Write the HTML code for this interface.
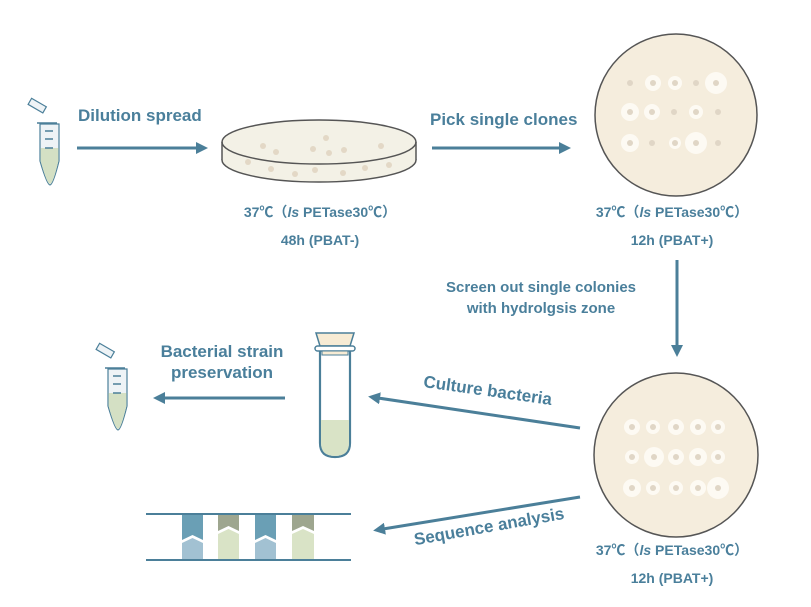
<!DOCTYPE html>
<html><head><meta charset="utf-8"><style>
body{margin:0;background:#fff}
svg{display:block;font-family:"Liberation Sans","Noto Sans CJK SC",sans-serif;font-weight:bold}
.t{fill:#4a7f9b}
</style></head><body>
<svg width="811" height="607" viewBox="0 0 811 607">
<defs>
<marker id="ah" markerWidth="12" markerHeight="12" refX="2" refY="6" orient="auto" markerUnits="userSpaceOnUse">
<path d="M0,0 L12,6 L0,12 Z" fill="#4b7f99"/></marker>
<g id="tube">
<rect x="-12" y="-10" width="17" height="7" transform="rotate(30)" fill="#eef3f6" stroke="#4b7f99" stroke-width="1.2"/>
<path d="M0,10 L20,10" stroke="#4b7f99" stroke-width="1.5"/>
<path d="M3,11 L3,48 Q10,72 13,72 Q16,72 22,48 L22,11 Z" fill="#eef3f6" stroke="#4b7f99" stroke-width="1.2"/>
<path d="M3.6,35 L21.4,35 L21.4,48 Q16,71 13,71 Q10,71 3.6,48 Z" fill="#d4e0c4"/>
<path d="M8,18 h8 M8,26 h8 M8,35 h8" stroke="#4b7f99" stroke-width="1.5"/>
</g>
</defs>

<use href="#tube" x="37" y="113"/>
<use href="#tube" x="105" y="358"/>

<text class="t" x="78" y="121" font-size="17">Dilution spread</text>
<line x1="77" y1="148" x2="198" y2="148" stroke="#4b7f99" stroke-width="3" marker-end="url(#ah)"/>

<g>
<ellipse cx="319" cy="160" rx="97" ry="22" fill="#f3f1e6" stroke="#555" stroke-width="1.5"/>
<rect x="222" y="142" width="194" height="18" fill="#f3f1e6"/>
<ellipse cx="319" cy="142" rx="97" ry="22" fill="#f3f1e6" stroke="#555" stroke-width="1.5"/>
<line x1="222" y1="142" x2="222" y2="160" stroke="#555" stroke-width="1.5"/>
<line x1="416" y1="142" x2="416" y2="160" stroke="#555" stroke-width="1.5"/>
<g fill="#e3d8c6">
<circle cx="263" cy="146" r="3"/><circle cx="276" cy="152" r="3"/><circle cx="326" cy="138" r="3"/><circle cx="313" cy="149" r="3"/><circle cx="329" cy="153" r="3"/><circle cx="344" cy="150" r="3"/><circle cx="381" cy="146" r="3"/>
<circle cx="248" cy="162" r="3"/><circle cx="271" cy="169" r="3"/><circle cx="295" cy="174" r="3"/><circle cx="315" cy="170" r="3"/><circle cx="343" cy="173" r="3"/><circle cx="365" cy="168" r="3"/><circle cx="389" cy="165" r="3"/>
</g></g>
<text class="t" x="320" y="217" font-size="14" text-anchor="middle">37℃（<tspan font-style="italic">ls</tspan> PETase30℃）</text>
<text class="t" x="320" y="245" font-size="14" text-anchor="middle">48h (PBAT-)</text>

<text class="t" x="430" y="125" font-size="17">Pick single clones</text>
<line x1="432" y1="148" x2="561" y2="148" stroke="#4b7f99" stroke-width="3" marker-end="url(#ah)"/>

<g>
<circle cx="676" cy="115" r="81" fill="#f5eddd" stroke="#555" stroke-width="1.5"/>
<g fill="#fdfaf3">
<circle cx="653" cy="83" r="8"/><circle cx="675" cy="83" r="7"/><circle cx="716" cy="83" r="11"/>
<circle cx="630" cy="112" r="9"/><circle cx="652" cy="112" r="8"/><circle cx="696" cy="112" r="7"/>
<circle cx="630" cy="143" r="9"/><circle cx="675" cy="143" r="6"/><circle cx="696" cy="143" r="11"/>
</g><g fill="#e0d6c6">
<circle cx="630" cy="83" r="3"/><circle cx="653" cy="83" r="3"/><circle cx="675" cy="83" r="3"/><circle cx="696" cy="83" r="3"/><circle cx="716" cy="83" r="3"/>
<circle cx="630" cy="112" r="3"/><circle cx="652" cy="112" r="3"/><circle cx="674" cy="112" r="3"/><circle cx="696" cy="112" r="3"/><circle cx="718" cy="112" r="3"/>
<circle cx="630" cy="143" r="3"/><circle cx="652" cy="143" r="3"/><circle cx="675" cy="143" r="3"/><circle cx="696" cy="143" r="3"/><circle cx="718" cy="143" r="3"/>
</g></g>
<text class="t" x="672" y="217" font-size="14" text-anchor="middle">37℃（<tspan font-style="italic">ls</tspan> PETase30℃）</text>
<text class="t" x="672" y="245" font-size="14" text-anchor="middle">12h (PBAT+)</text>

<line x1="677" y1="260" x2="677" y2="347" stroke="#4b7f99" stroke-width="3" marker-end="url(#ah)"/>
<text class="t" x="541" y="292" font-size="15" text-anchor="middle">Screen out single colonies</text>
<text class="t" x="541" y="313" font-size="15" text-anchor="middle">with hydrolgsis zone</text>

<g>
<circle cx="676" cy="455" r="82" fill="#f5eddd" stroke="#555" stroke-width="1.5"/>
<g fill="#fdfaf3">
<circle cx="632" cy="427" r="8"/><circle cx="653" cy="427" r="7"/><circle cx="676" cy="427" r="8"/><circle cx="698" cy="427" r="8"/><circle cx="718" cy="427" r="7"/>
<circle cx="632" cy="457" r="7"/><circle cx="654" cy="457" r="10"/><circle cx="676" cy="457" r="8"/><circle cx="698" cy="457" r="9"/><circle cx="718" cy="457" r="7"/>
<circle cx="632" cy="488" r="9"/><circle cx="653" cy="488" r="7"/><circle cx="676" cy="488" r="7"/><circle cx="698" cy="488" r="8"/><circle cx="718" cy="488" r="11"/>
</g><g fill="#e0d6c6">
<circle cx="632" cy="427" r="3"/><circle cx="653" cy="427" r="3"/><circle cx="676" cy="427" r="3"/><circle cx="698" cy="427" r="3"/><circle cx="718" cy="427" r="3"/>
<circle cx="632" cy="457" r="3"/><circle cx="654" cy="457" r="3"/><circle cx="676" cy="457" r="3"/><circle cx="698" cy="457" r="3"/><circle cx="718" cy="457" r="3"/>
<circle cx="632" cy="488" r="3"/><circle cx="653" cy="488" r="3"/><circle cx="676" cy="488" r="3"/><circle cx="698" cy="488" r="3"/><circle cx="718" cy="488" r="3"/>
</g></g>
<text class="t" x="672" y="555" font-size="14" text-anchor="middle">37℃（<tspan font-style="italic">ls</tspan> PETase30℃）</text>
<text class="t" x="672" y="583" font-size="14" text-anchor="middle">12h (PBAT+)</text>

<line x1="580" y1="428" x2="378" y2="398" stroke="#4b7f99" stroke-width="3" marker-end="url(#ah)"/>
<text class="t" x="487" y="396" font-size="17" text-anchor="middle" transform="rotate(8 487 396)">Culture  bacteria</text>

<g>
<path d="M320,350 L320,443 Q320,457 335,457 Q350,457 350,443 L350,350" fill="#fff" stroke="#4b7f99" stroke-width="2.2"/>
<path d="M321,420 L349,420 L349,443 Q349,456 335,456 Q321,456 321,443 Z" fill="#d9e3c6"/>
<path d="M316,333 L354,333 L350,346 L320,346 Z" fill="#f7ebd4" stroke="#4b7f99" stroke-width="1.5"/>
<rect x="315" y="346" width="40" height="5" rx="2.5" fill="#fff" stroke="#4b7f99" stroke-width="1.5"/>
<rect x="322" y="351" width="26" height="4" fill="#f7ebd4" stroke="#4b7f99" stroke-width="1"/>
</g>

<line x1="285" y1="398" x2="163" y2="398" stroke="#4b7f99" stroke-width="3" marker-end="url(#ah)"/>
<text class="t" x="222" y="357" font-size="17" text-anchor="middle">Bacterial strain</text>
<text class="t" x="222" y="378" font-size="17" text-anchor="middle">preservation</text>

<line x1="580" y1="497" x2="383" y2="529" stroke="#4b7f99" stroke-width="3" marker-end="url(#ah)"/>
<text class="t" x="490" y="532" font-size="17" text-anchor="middle" transform="rotate(-10 490 532)">Sequence analysis</text>

<g>
<g>
<path d="M182,514 h21 v26 l-10.5,-5 l-10.5,5 Z" fill="#6a9fb5"/><path d="M182,543 l10.5,-5 l10.5,5 v17 h-21 Z" fill="#a2c1d2"/>
<path d="M218,514 h21 v17 l-10.5,-5 l-10.5,5 Z" fill="#9ea68f"/><path d="M218,534 l10.5,-5 l10.5,5 v26 h-21 Z" fill="#d9e3c6"/>
<path d="M255,514 h21 v26 l-10.5,-5 l-10.5,5 Z" fill="#6a9fb5"/><path d="M255,543 l10.5,-5 l10.5,5 v17 h-21 Z" fill="#a2c1d2"/>
<path d="M292,514 h22 v17 l-11,-5 l-11,5 Z" fill="#9ea68f"/><path d="M292,534 l11,-5 l11,5 v26 h-22 Z" fill="#d9e3c6"/>
</g>
<line x1="146" y1="514" x2="351" y2="514" stroke="#4b7f99" stroke-width="2"/>
<line x1="146" y1="560" x2="351" y2="560" stroke="#4b7f99" stroke-width="2"/>
</g>
</svg>
</body></html>
